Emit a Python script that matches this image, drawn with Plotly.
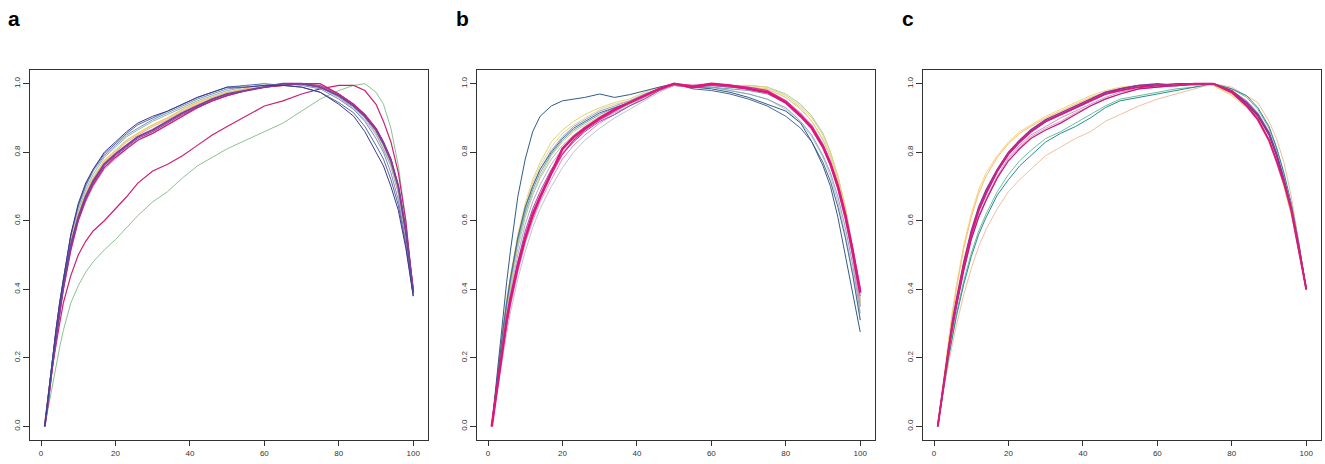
import plotly.graph_objects as go

X = [1, 2, 3, 4, 5, 6, 8, 10, 12, 14, 17, 20, 23, 26, 30, 34, 38, 42, 46, 50,
     55, 60, 65, 70, 75, 80, 84, 87, 90, 92, 94, 96, 98, 100]

X_TICKS = [0, 20, 40, 60, 80, 100]
Y_TICKS = [0.0, 0.2, 0.4, 0.6, 0.8, 1.0]
Y_TICK_TEXT = ["0.0", "0.2", "0.4", "0.6", "0.8", "1.0"]
PANEL_LABELS = ["a", "b", "c"]

# ---- panel a ----
a_navy = [0, .10, .19, .28, .36, .43, .56, .65, .71, .75, .80, .83, .86, .885, .905, .92, .94, .96, .975, .99,
          .99, .995, .995, .99, .975, .94, .905, .86, .80, .76, .70, .63, .52, .38]
a_blue = [0, .10, .19, .28, .36, .43, .555, .645, .705, .75, .795, .825, .855, .88, .90, .92, .94, .96, .975, .99,
          .995, 1.0, .995, .99, .975, .945, .915, .875, .82, .78, .72, .645, .53, .38]
a_slate = [0, .10, .19, .28, .36, .43, .56, .64, .70, .745, .79, .82, .85, .87, .895, .915, .935, .955, .97, .985,
           .99, .995, 1.0, .995, .985, .955, .925, .89, .84, .80, .74, .66, .54, .385]
a_teal = [0, .10, .19, .27, .35, .42, .55, .63, .69, .735, .785, .815, .845, .865, .89, .91, .93, .95, .965, .98,
          .99, .995, .995, 1.0, .99, .96, .93, .90, .855, .81, .76, .68, .55, .39]
a_yellow = [0, .09, .18, .27, .35, .42, .54, .62, .68, .725, .775, .805, .835, .855, .88, .90, .925, .945, .96, .975,
            .985, .99, .995, 1.0, .99, .965, .935, .905, .86, .82, .77, .69, .56, .39]
a_orange = [0, .09, .18, .26, .34, .41, .53, .615, .675, .72, .77, .80, .83, .85, .875, .895, .92, .94, .955, .97,
            .985, .99, .995, 1.0, .995, .97, .94, .91, .865, .825, .775, .695, .565, .39]
a_lilac = [0, .09, .17, .25, .33, .40, .51, .60, .655, .70, .75, .78, .81, .835, .86, .885, .91, .93, .95, .965,
           .98, .99, .995, 1.0, .99, .96, .925, .895, .85, .81, .76, .68, .55, .385]
a_purple = [0, .09, .18, .26, .34, .41, .53, .61, .67, .715, .765, .795, .82, .845, .865, .89, .915, .935, .955, .97,
            .98, .99, 1.0, 1.0, .99, .965, .935, .905, .865, .825, .775, .70, .57, .39]
a_plum = [0, .09, .17, .26, .34, .41, .52, .605, .665, .71, .76, .79, .815, .84, .86, .885, .91, .93, .95, .965,
          .98, .99, .995, 1.0, .995, .97, .94, .91, .87, .83, .78, .70, .575, .395]
a_mag = [0, .09, .17, .25, .33, .40, .515, .60, .66, .705, .755, .785, .81, .835, .855, .88, .905, .93, .95, .965,
         .98, .99, .995, 1.0, 1.0, .97, .94, .91, .87, .83, .78, .70, .57, .40]
a_mag_low = [0, .07, .17, .24, .30, .36, .44, .50, .54, .57, .60, .635, .67, .71, .745, .765, .79, .82, .85, .875,
             .905, .935, .95, .97, .985, .995, .995, .98, .94, .89, .83, .74, .60, .39]
a_green = [0, .06, .12, .18, .23, .28, .36, .41, .45, .48, .515, .545, .58, .615, .655, .685, .725, .76, .785, .81,
           .835, .86, .885, .92, .955, .98, .995, 1.0, .975, .94, .87, .76, .60, .38]

# ---- panel b ----
b_outlier = [0, .11, .22, .32, .42, .51, .67, .78, .86, .905, .935, .95, .955, .96, .97, .96, .968, .98, .99, 1.0,
             .99, .985, .975, .96, .94, .92, .885, .83, .76, .70, .61, .50, .39, .275]
b_navy = [0, .10, .19, .28, .36, .43, .55, .64, .70, .75, .80, .84, .87, .89, .915, .93, .945, .965, .985, 1.0,
          .985, .98, .97, .955, .935, .905, .87, .83, .77, .715, .64, .55, .44, .31]
b_yellow = [0, .10, .20, .29, .37, .44, .56, .65, .72, .77, .83, .865, .89, .91, .93, .945, .955, .975, .99, 1.0,
            .995, .995, .995, .995, .99, .965, .935, .90, .85, .80, .73, .64, .52, .37]
b_sand = [0, .10, .19, .28, .36, .43, .55, .64, .71, .76, .815, .855, .88, .90, .925, .94, .95, .97, .985, 1.0,
          .99, .995, .99, .99, .985, .96, .93, .89, .84, .79, .72, .63, .51, .36]
b_steel = [0, .10, .19, .28, .36, .43, .55, .635, .70, .75, .805, .845, .875, .895, .92, .935, .95, .97, .985, 1.0,
           .99, .99, .98, .97, .955, .93, .89, .85, .79, .74, .67, .58, .47, .33]
b_teal = [0, .09, .18, .27, .35, .42, .54, .625, .69, .74, .795, .835, .865, .885, .91, .93, .945, .965, .985, .995,
          .99, .99, .985, .98, .97, .945, .91, .875, .82, .77, .70, .61, .495, .35]
b_olive = [0, .09, .18, .27, .34, .41, .53, .62, .68, .73, .79, .83, .86, .88, .905, .925, .945, .965, .985, .995,
           .99, 1.0, .995, .99, .985, .96, .925, .89, .835, .785, .715, .625, .51, .36]
b_green = [0, .09, .17, .26, .33, .40, .52, .61, .675, .725, .78, .82, .85, .875, .90, .92, .94, .96, .98, .995,
           .99, 1.0, .995, .995, .99, .97, .94, .905, .855, .80, .73, .64, .52, .37]
b_lilac = [0, .08, .17, .25, .32, .39, .50, .59, .655, .705, .765, .81, .84, .865, .895, .915, .935, .955, .98, .995,
           .99, .995, .99, .985, .975, .95, .915, .88, .825, .775, .705, .62, .505, .36]
b_gray = [0, .07, .14, .21, .27, .33, .43, .51, .58, .635, .70, .755, .80, .835, .87, .90, .925, .95, .975, .995,
          .99, .99, .98, .97, .955, .925, .885, .845, .785, .73, .655, .56, .45, .31]
b_purple = [0, .08, .16, .24, .31, .375, .48, .57, .635, .685, .75, .795, .83, .86, .89, .91, .935, .955, .98, 1.0,
            .99, .995, .99, .985, .975, .945, .905, .87, .815, .765, .695, .61, .50, .38]
b_pink = [0, .075, .15, .225, .29, .35, .45, .535, .60, .655, .72, .78, .82, .85, .885, .91, .935, .96, .98, .995,
          .99, .995, .99, .985, .975, .945, .91, .87, .815, .76, .69, .60, .49, .35]
b_mag2 = [0, .08, .155, .23, .30, .36, .46, .545, .61, .665, .735, .795, .835, .865, .895, .92, .945, .965, .985, 1.0,
          .995, 1.0, .995, .99, .98, .95, .91, .875, .82, .77, .705, .62, .515, .40]
b_mag = [0, .08, .16, .24, .31, .37, .47, .55, .62, .67, .74, .81, .845, .87, .90, .925, .945, .965, .985, 1.0,
         .99, 1.0, .995, .985, .975, .945, .905, .87, .815, .765, .70, .615, .51, .39]

# ---- panel c ----
c_peach = [0, .07, .13, .19, .245, .295, .385, .46, .525, .575, .635, .685, .72, .75, .79, .815, .84, .86, .89, .91,
           .935, .955, .97, .985, 1.0, .99, .965, .945, .89, .84, .77, .67, .54, .40]
c_teal = [0, .075, .14, .205, .265, .32, .415, .495, .56, .61, .675, .72, .76, .79, .83, .855, .875, .90, .93, .95,
          .96, .97, .98, .99, 1.0, .985, .965, .93, .875, .815, .74, .65, .535, .40]
c_green = [0, .075, .145, .21, .27, .33, .425, .505, .57, .62, .685, .735, .775, .805, .84, .86, .885, .91, .935, .955,
           .965, .975, .985, .99, 1.0, .985, .96, .925, .87, .81, .735, .645, .53, .40]
c_yellow = [0, .09, .18, .26, .34, .41, .53, .62, .69, .74, .79, .83, .86, .88, .905, .925, .945, .965, .98, .99,
            .995, .995, .995, 1.0, .995, .965, .93, .895, .83, .77, .70, .615, .51, .40]
c_orange = [0, .085, .17, .25, .33, .40, .52, .61, .68, .73, .785, .825, .855, .875, .90, .92, .94, .96, .975, .985,
            .99, .995, .995, 1.0, .995, .97, .935, .90, .835, .775, .705, .62, .515, .40]
c_lilac = [0, .08, .155, .225, .29, .355, .46, .55, .615, .665, .73, .785, .82, .85, .875, .90, .92, .94, .96, .975,
           .985, .99, .995, .995, 1.0, .98, .95, .915, .86, .80, .725, .64, .53, .40]
c_pink = [0, .08, .155, .225, .29, .35, .455, .545, .61, .66, .725, .78, .815, .845, .87, .89, .915, .935, .955, .97,
          .985, .99, .995, .995, 1.0, .98, .95, .915, .86, .80, .725, .64, .53, .40]
c_mag2 = [0, .08, .155, .23, .29, .35, .455, .545, .61, .66, .725, .775, .81, .84, .865, .885, .91, .935, .955, .97,
          .985, .99, .995, 1.0, 1.0, .98, .945, .91, .855, .795, .72, .635, .525, .40]
c_purple = [0, .08, .16, .24, .31, .37, .48, .57, .64, .69, .75, .80, .835, .865, .895, .915, .935, .955, .975, .985,
            .995, 1.0, .995, 1.0, 1.0, .975, .945, .91, .855, .795, .72, .635, .525, .40]
c_plum = [0, .08, .16, .23, .30, .36, .47, .56, .63, .68, .745, .795, .83, .86, .89, .91, .93, .95, .97, .985,
          .995, .995, 1.0, 1.0, 1.0, .975, .94, .905, .85, .79, .715, .63, .52, .40]
c_mag = [0, .08, .16, .23, .30, .36, .47, .56, .63, .68, .745, .795, .83, .86, .89, .91, .93, .95, .97, .98,
         .99, .995, .995, 1.0, 1.0, .975, .935, .895, .835, .775, .71, .63, .52, .40]

# line styles: (series, colour, width)
panel_a = [(a_green, '#8cc294', 1), (a_mag_low, '#cc1f74', 1.2), (a_lilac, '#c4b0da', 1),
           (a_teal, '#86bab6', 1), (a_slate, '#7f8db8', 1), (a_yellow, '#ebcb6a', 1.5),
           (a_orange, '#f0b478', 1), (a_plum, '#a03a8e', 1), (a_mag, '#d21c7c', 1.3),
           (a_purple, '#7b3fa0', 2), (a_blue, '#5566a6', 1), (a_navy, '#3a3a8c', 1)]
panel_b = [(b_gray, '#bcc4d2', 1), (b_lilac, '#b4aad6', 1), (b_green, '#a6cba4', 1),
           (b_olive, '#d0cb8a', 1), (b_sand, '#ead294', 1), (b_yellow, '#e0d47a', 1),
           (b_steel, '#8ba6bc', 1), (b_teal, '#6aa6b4', 1), (b_navy, '#4a6594', 1),
           (b_outlier, '#2f5d87', 1), (b_pink, '#e68ab8', 1), (b_purple, '#9150a6', 1),
           (b_mag2, '#d63a90', 1.5), (b_mag, '#e0147c', 2.5)]
panel_c = [(c_peach, '#f2bea0', 1), (c_green, '#6cc0a0', 1), (c_teal, '#2b8c8c', 1),
           (c_yellow, '#f6d27a', 1), (c_orange, '#f7be70', 1), (c_lilac, '#c09ad0', 1),
           (c_pink, '#e69ac0', 1), (c_mag2, '#c2187a', 1.2), (c_plum, '#9e2b86', 1.3),
           (c_purple, '#7d3c98', 1.5), (c_mag, '#d81b7d', 2)]

W, H = 1325, 464
# plot boxes in pixels: left, right
boxes = [(30, 428), (477, 875), (923, 1321)]
top, bottom = 70, 440
label_x = [14, 462, 908]

fig = go.Figure()
for i, panel in enumerate([panel_a, panel_b, panel_c]):
    xa = 'x' if i == 0 else 'x%d' % (i + 1)
    ya = 'y' if i == 0 else 'y%d' % (i + 1)
    for ys, col, w in panel:
        fig.add_trace(go.Scatter(x=X, y=ys, mode='lines', xaxis=xa, yaxis=ya,
                                 line=dict(color=col, width=w), showlegend=False,
                                 hoverinfo='skip'))

axis_common = dict(showline=True, mirror=True, linecolor='#333333', linewidth=1,
                   ticks='outside', ticklen=5, tickcolor='#333333', tickwidth=1,
                   showgrid=False, zeroline=False, fixedrange=True,
                   tickfont=dict(family='Liberation Sans, Arial', size=8, color='#333333'))

layout = dict(width=W, height=H, margin=dict(l=0, r=0, t=0, b=0),
              paper_bgcolor='white', plot_bgcolor='white', showlegend=False)
ydom = [1 - bottom / H, 1 - top / H]
for i, (l, r) in enumerate(boxes):
    sfx = '' if i == 0 else str(i + 1)
    layout['xaxis' + sfx] = dict(axis_common, domain=[l / W, r / W], range=[-2.96, 103.96],
                                 tickvals=X_TICKS, ticktext=[str(t) for t in X_TICKS],
                                 anchor='y' + sfx)
    layout['yaxis' + sfx] = dict(axis_common, domain=ydom, range=[-0.04, 1.04],
                                 tickvals=Y_TICKS, ticktext=Y_TICK_TEXT, tickangle=-90,
                                 ticklen=6, anchor='x' + sfx)
fig.update_layout(**layout)

for lab, lx in zip(PANEL_LABELS, label_x):
    fig.add_annotation(x=lx / W, y=1 - 18 / H, xref='paper', yref='paper',
                       xanchor='center', yanchor='middle',
                       text='<b>%s</b>' % lab, showarrow=False,
                       font=dict(family='Liberation Sans, Arial', size=21, color='black'))

# page body has a default 8px margin; drop it so the figure sits at the window corner
fig.write_html("out.html", config={'displayModeBar': False},
               post_script="document.body.style.margin='0';")
